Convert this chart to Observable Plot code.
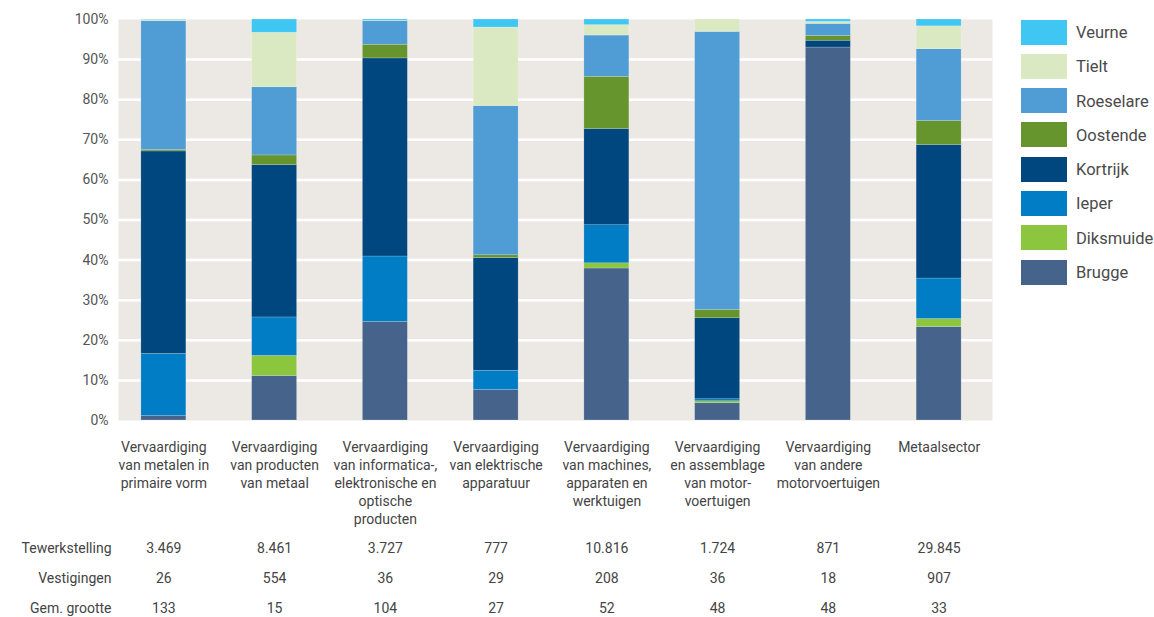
<!DOCTYPE html>
<html><head><meta charset="utf-8">
<script src="https://cdn.jsdelivr.net/npm/d3@7"></script>
<script src="https://cdn.jsdelivr.net/npm/@observablehq/plot@0.6"></script>
<style>
body{margin:0;background:#fff;font-family:Roboto,sans-serif;}
#wrap{position:relative;width:1154px;height:617px;}
#wrap svg{position:absolute;left:0;top:0;}
#legend{position:absolute;left:1021px;top:19.5px;}
.item{display:flex;align-items:center;height:25px;margin-bottom:9.3px;}
.sw{width:46px;height:25px;margin-right:9px;flex:none;}
.lb{font-size:16.5px;color:#4a4a4a;white-space:nowrap;padding-top:1px;}
</style></head><body><div id="wrap"><div id="legend"></div></div>
<script>
const categories = ["metalen","producten","informatica","elektrisch","machines","motorvoertuigen","andere","Metaalsector"];
const xLabels = [
  "Vervaardiging\nvan metalen in\nprimaire vorm",
  "Vervaardiging\nvan producten\nvan metaal",
  "Vervaardiging\nvan informatica-,\nelektronische en\noptische\nproducten",
  "Vervaardiging\nvan elektrische\napparatuur",
  "Vervaardiging\nvan machines,\napparaten en\nwerktuigen",
  "Vervaardiging\nen assemblage\nvan motor-\nvoertuigen",
  "Vervaardiging\nvan andere\nmotorvoertuigen",
  "Metaalsector"
];
const regions = ["Brugge","Diksmuide","Ieper","Kortrijk","Oostende","Roeselare","Tielt","Veurne"];
const colors  = ["#46648b","#8cc63f","#007dc5","#00467f","#66952e","#4f9dd4","#dbe9c3","#40c6f3"];

const Brugge    = [1.1, 11.1, 24.6, 7.6, 37.9, 4.3, 93.0, 23.3];
const Diksmuide = [0.0, 5.0, 0.0, 0.0, 1.3, 0.5, 0.0, 2.0];
const Ieper     = [15.5, 9.6, 16.3, 4.8, 9.5, 0.5, 0.0, 10.1];
const Kortrijk  = [50.5, 38.0, 49.4, 28.1, 24.0, 20.2, 1.7, 33.3];
const Oostende  = [0.4, 2.4, 3.4, 0.7, 13.0, 2.1, 1.2, 6.0];
const Roeselare = [32.1, 17.0, 5.9, 37.2, 10.3, 69.3, 3.0, 17.9];
const Tielt     = [0.3, 13.6, 0.1, 19.6, 2.6, 3.1, 0.5, 5.7];
const Veurne    = [0.1, 3.3, 0.3, 2.0, 1.4, 0.0, 0.6, 1.7];

const rowLabels = ["Tewerkstelling","Vestigingen","Gem. grootte"];
const tewerkstelling = ["3.469","8.461","3.727","777","10.816","1.724","871","29.845"];
const vestigingen    = ["26","554","36","29","208","36","18","907"];
const gemGrootte     = ["133","15","104","27","52","48","48","33"];

const yTicks = [0,10,20,30,40,50,60,70,80,90,100];

const series = {Brugge, Diksmuide, Ieper, Kortrijk, Oostende, Roeselare, Tielt, Veurne};
const rows = [];
regions.forEach(r => categories.forEach((c, i) => rows.push({region: r, category: c, value: series[r][i]})));
const tableCols = [tewerkstelling, vestigingen, gemGrootte];
const tableData = [];
tableCols.forEach((arr, j) => categories.forEach((c, i) => tableData.push({row: j, category: c, text: arr[i]})));
const rowDy = [132, 162, 192];

const marks = [
  Plot.frame({fill: "#ece9e4", stroke: null, insetLeft: 10, insetRight: 2}),
  Plot.ruleY(yTicks.filter(t => t > 0 && t < 100), {stroke: "#fff", strokeWidth: 2.5, insetLeft: 10, insetRight: 2}),
  Plot.barY(rows, {x: "category", y: "value", fill: "region", stroke: "#ffffff", strokeOpacity: 0.3, strokeWidth: 0.6}),
  Plot.axisY({ticks: yTicks, tickFormat: d => d + "%", tickSize: 0, tickPadding: 0, fontSize: 14, fill: "#555"}),
  Plot.axisX({tickSize: 0, tickPadding: 18.5, tickFormat: d => xLabels[categories.indexOf(d)], lineHeight: 1.29, fontSize: 14, fill: "#444"})
];
rowDy.forEach((dy, j) => {
  marks.push(Plot.text(tableData.filter(d => d.row === j), {x: "category", text: "text", frameAnchor: "bottom", dy, fontSize: 14, fill: "#444"}));
  marks.push(Plot.text([rowLabels[j]], {frameAnchor: "bottom-left", text: d => d, textAnchor: "end", dx: 3, dy, fontSize: 14, fill: "#444"}));
});

const chart = Plot.plot({
  width: 1154, height: 617,
  marginLeft: 108, marginRight: 160, marginTop: 19, marginBottom: 197,
  style: {fontFamily: "Roboto, sans-serif", fontSize: "14px", color: "#555", background: "transparent"},
  x: {domain: categories, paddingInner: 0.594, paddingOuter: 0.297, round: false, label: null, axis: null},
  y: {domain: [0, 100], label: null, axis: null},
  color: {domain: regions, range: colors},
  marks
});
const wrap = document.getElementById("wrap");
wrap.insertBefore(chart, wrap.firstChild);

const legend = document.getElementById("legend");
regions.slice().reverse().forEach(r => {
  const it = document.createElement("div"); it.className = "item";
  const sw = document.createElement("div"); sw.className = "sw"; sw.style.background = colors[regions.indexOf(r)];
  const lb = document.createElement("div"); lb.className = "lb"; lb.textContent = r;
  it.appendChild(sw); it.appendChild(lb); legend.appendChild(it);
});
</script></body></html>
